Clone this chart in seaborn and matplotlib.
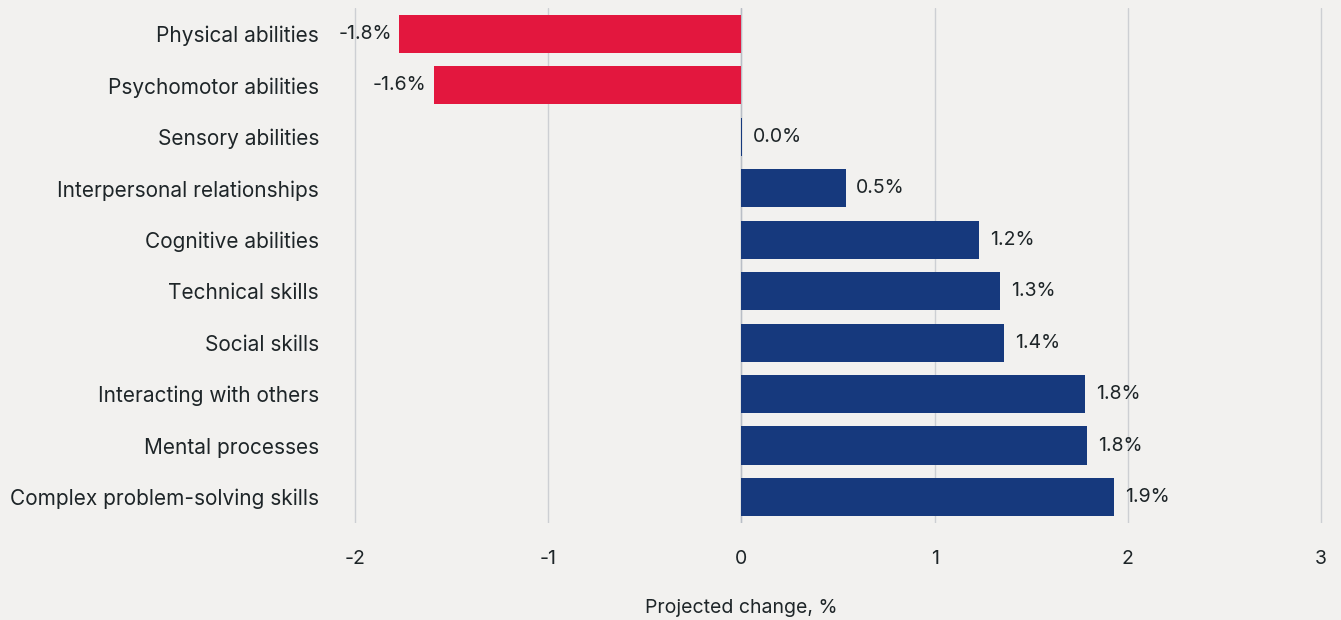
import matplotlib
matplotlib.use("Agg")
import matplotlib.pyplot as plt
import seaborn as sns
import pandas as pd

categories = ["Physical abilities", "Psychomotor abilities", "Sensory abilities",
              "Interpersonal relationships", "Cognitive abilities", "Technical skills",
              "Social skills", "Interacting with others", "Mental processes",
              "Complex problem-solving skills"]
values = [-1.77, -1.59, 0.002, 0.54, 1.23, 1.34, 1.36, 1.78, 1.79, 1.93]
labels = ["-1.8%", "-1.6%", "0.0%", "0.5%", "1.2%", "1.3%", "1.4%", "1.8%", "1.8%", "1.9%"]
x_ticks = [-2, -1, 0, 1, 2, 3]

RED = "#E3173E"
NAVY = "#16397D"
BG = "#F2F1EF"
TXT = "#1E2528"

df = pd.DataFrame({"category": categories, "value": values,
                   "sign": ["neg" if v < 0 else "pos" for v in values]})

sns.set_theme(style="white")
plt.rcParams["font.family"] = ["Inter", "DejaVu Sans"]

fig = plt.figure(figsize=(13.41, 6.2), dpi=100, facecolor=BG)
ax = fig.add_axes([0.2575, 0.157, 0.7348, 0.8296])
ax.set_facecolor(BG)

sns.barplot(data=df, y="category", x="value", hue="sign", order=categories,
            palette={"neg": RED, "pos": NAVY}, width=0.74, dodge=False,
            legend=False, ax=ax, saturation=1, linewidth=0, edgecolor="none")

ax.set_xlim(-2.05, 3.05)
ax.set_ylim(9.5, -0.5)
ax.set_xticks(x_ticks)
ax.set_xticklabels([str(t) for t in x_ticks])
for t in x_ticks:
    ax.axvline(t, color="#CDCFD3", lw=1, zorder=0)
ax.axvline(0, color="#B9BEC6", lw=1, zorder=0)

for i, (v, lab) in enumerate(zip(values, labels)):
    if v < 0:
        ax.text(v - 0.04, i, lab, ha="right", va="center", fontsize=14, color=TXT)
    else:
        ax.text(v + 0.055, i, lab, ha="left", va="center", fontsize=14, color=TXT)

for s in ax.spines.values():
    s.set_visible(False)
ax.tick_params(axis="y", length=0, pad=19, labelsize=15, labelcolor=TXT)
ax.tick_params(axis="x", length=0, pad=20, labelsize=14, labelcolor=TXT)
ax.set_ylabel("")
ax.set_xlabel("Projected change, %", fontsize=14, color=TXT)
# center the axis title under the zero line, as in the reference
ax.xaxis.set_label_coords((0 - (-2.05)) / 5.1, -0.148)

fig.savefig("out.png", dpi=100, facecolor=BG)
